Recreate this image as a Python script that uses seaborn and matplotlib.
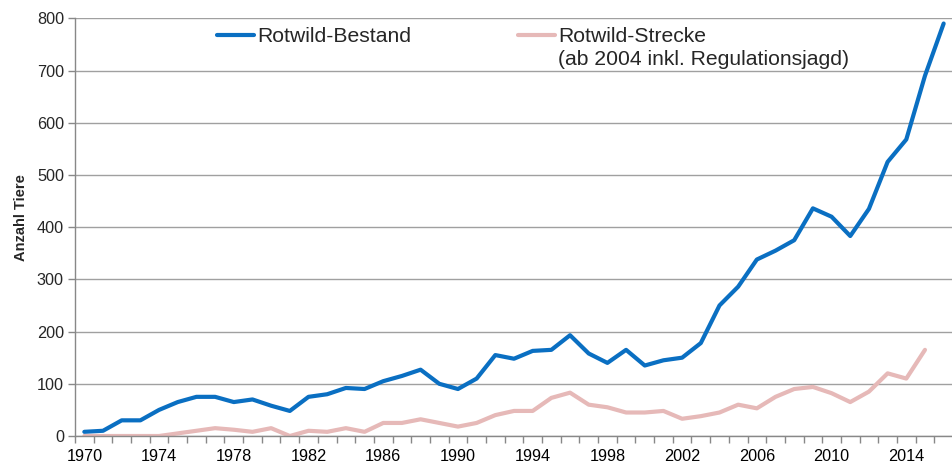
import pandas as pd
import numpy as np
import matplotlib.pyplot as plt
import seaborn as sns

# Rotwild: Bestand und Strecke 1970-2016
jahre = list(range(1970, 2017))

bestand = [8, 10, 30, 30, 50, 65, 75, 75, 65, 70,
           58, 48, 75, 80, 92, 90, 105, 115, 127, 100,
           90, 110, 155, 148, 163, 165, 193, 158, 140, 165,
           135, 145, 150, 178, 250, 286, 338, 355, 375, 436,
           420, 383, 435, 525, 568, 690, 790]

strecke = [0, 0, 0, 0, 0, 5, 10, 15, 12, 8,
           15, 0, 10, 8, 15, 8, 25, 25, 32, 25,
           18, 25, 40, 48, 48, 73, 83, 60, 55, 45,
           45, 48, 33, 38, 45, 60, 53, 75, 90, 94,
           82, 65, 85, 120, 110, 165, np.nan]

serien = ["Rotwild-Bestand", "Rotwild-Strecke"]
zusatz = "(ab 2004 inkl. Regulationsjagd)"
farben = ["#0A6FC2", "#E6B9B8"]

df = pd.DataFrame({"Jahr": jahre, serien[0]: bestand, serien[1]: strecke})
df_long = df.melt(id_vars="Jahr", var_name="Serie", value_name="Anzahl").dropna()

sns.set_style("white")
plt.rcParams["font.family"] = ["Liberation Sans", "DejaVu Sans"]

fig = plt.figure(figsize=(9.53, 4.61), dpi=100)
ax = fig.add_axes([75 / 953, 1 - 436 / 461, 1 - 75 / 953, (436 - 18.3) / 461])

sns.lineplot(data=df_long, x="Jahr", y="Anzahl", hue="Serie",
             palette=dict(zip(serien, farben)), linewidth=3, ax=ax,
             legend=False)

ax.set_xlim(1969.5, 2016.14)
ax.set_ylim(0, 800)
ax.set_yticks(range(0, 801, 100))
ax.set_xticks(range(1970, 2016, 4))
ax.set_xticks(np.arange(1969.5, 2016.6, 1), minor=True)
ax.tick_params(axis="x", which="major", length=0, pad=9, labelsize=11.7, colors="black")
ax.tick_params(axis="x", which="minor", length=5, width=1, color="#888888", bottom=True)
ax.tick_params(axis="y", length=5, width=1, color="#888888", left=True, labelsize=11.7, pad=3)

ax.grid(axis="y", color="#a0a0a0", linewidth=1)
ax.set_axisbelow(True)
for s in ["top", "right"]:
    ax.spines[s].set_visible(False)
for s in ["left", "bottom"]:
    ax.spines[s].set_color("#888888")
    ax.spines[s].set_linewidth(1)

ax.set_xlabel("")
ax.set_ylabel("Anzahl Tiere", fontsize=10.5, fontweight="bold")
ax.yaxis.set_label_coords(-0.054, 0.522)

handles = [plt.Line2D([], [], color=c, linewidth=3) for c in farben]
leg = ax.legend(handles, serien, ncol=2, frameon=False, fontsize=15.2,
                loc="upper left", bbox_to_anchor=(217 / 953, 1 - 27 / 461),
                bbox_transform=fig.transFigure, handlelength=1.75,
                handletextpad=0.14, columnspacing=5.07, borderaxespad=0,
                borderpad=0)

# zweite Zeile der Strecke-Legende unter dem Text ausrichten
fig.canvas.draw()
bb = leg.get_texts()[1].get_window_extent()
fig.text(bb.x0 / 953, 1 - 65 / 461, zusatz, fontsize=15.2,
         ha="left", va="baseline")

fig.savefig("out.png", dpi=100)
